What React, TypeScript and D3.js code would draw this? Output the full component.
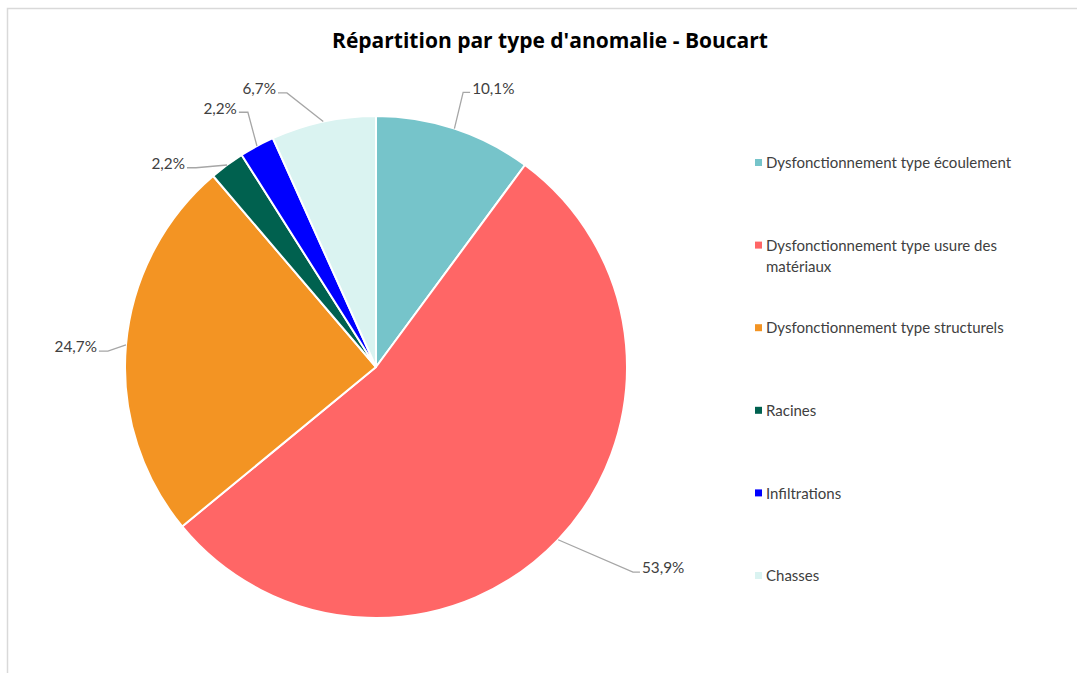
import React, { useEffect } from "react";
import * as d3 from "d3";

const categories = [
  "Dysfonctionnement type écoulement",
  "Dysfonctionnement type usure des matériaux",
  "Dysfonctionnement type structurels",
  "Racines",
  "Infiltrations",
  "Chasses",
];
const counts = [9, 48, 22, 2, 2, 6];
const colors = ["#76C4CA", "#FF6666", "#F39423", "#00614F", "#0000FF", "#DAF3F1"];
const legendLines = [
  ["Dysfonctionnement type écoulement"],
  ["Dysfonctionnement type usure des", "matériaux"],
  ["Dysfonctionnement type structurels"],
  ["Racines"],
  ["Infiltrations"],
  ["Chasses"],
];
// leader elbow placement: [angle in degrees (clockwise from top), radius factor]
const labelElbows: [number, number][] = [
  [17.6, 1.148],
  [128.6, 1.31],
  [273.4, 1.07],
  [317.9, 1.07],
  [333.3, 1.136],
  [342, 1.148],
];

const W = 1077;
const H = 673;
const FONT = "Lato, 'Open Sans', sans-serif";

export default function App() {
  useEffect(() => {
    document.body.style.margin = "0";
  }, []);

  const cx = 376;
  const cy = 367;
  const r = 251;
  const total = d3.sum(counts);
  const pie = d3.pie<number>().sort(null).value((d) => d);
  const arcs = pie(counts);
  const arc = d3.arc<d3.PieArcDatum<number>>().innerRadius(0).outerRadius(r);
  const fmt = (v: number) => d3.format(".1f")((v / total) * 100).replace(".", ",") + "%";

  const legendY = d3.scalePoint<number>().domain(d3.range(categories.length)).range([163, 576]);

  return (
    <svg width={W} height={H} style={{ display: "block", fontFamily: FONT }}>
      <rect x={0} y={0} width={W} height={H} fill="#fff" />
      <path d={`M7.5,${H} L7.5,8.5 L${W},8.5`} fill="none" stroke="#D9D9D9" strokeWidth={1.5} />
      <text x={550} y={48} textAnchor="middle" fontSize={21} fontWeight="bold" fill="#000"
        style={{ fontFamily: "'Open Sans', sans-serif" }}>
        Répartition par type d'anomalie - Boucart
      </text>
      <g transform={`translate(${cx},${cy})`}>
        {arcs.map((a, i) => (
          <path key={i} d={arc(a) || ""} fill={colors[i]} stroke="#fff" strokeWidth={2} strokeLinejoin="round" />
        ))}
        {arcs.map((a, i) => {
          const mid = (a.startAngle + a.endAngle) / 2;
          const x0 = r * Math.sin(mid);
          const y0 = -r * Math.cos(mid);
          const [angDeg, rf] = labelElbows[i];
          const ang = (angDeg * Math.PI) / 180;
          const x1 = r * rf * Math.sin(ang);
          const y1 = -r * rf * Math.cos(ang);
          const right = x1 > 0;
          const x2 = x1 + (right ? 7 : -9);
          return (
            <g key={"l" + i}>
              <polyline
                points={`${x0},${y0} ${x1},${y1} ${x2},${y1}`}
                fill="none"
                stroke="#A6A6A6"
                strokeWidth={1.3}
              />
              <text
                x={x2 + (right ? 2 : -2)}
                y={y1 - 4}
                dy="0.35em"
                textAnchor={right ? "start" : "end"}
                fontSize={15.3}
                fill="#404040"
              >
                {fmt(a.data)}
              </text>
            </g>
          );
        })}
      </g>
      <g>
        {categories.map((c, i) => {
          const y = legendY(i) as number;
          return (
            <g key={c}>
              <rect x={755} y={y - 4} width={7} height={7} fill={colors[i]} />
              {legendLines[i].map((ln, j) => (
                <text key={j} x={766} y={y + j * 21} dy="0.35em" fontSize={15} fill="#404040">
                  {ln}
                </text>
              ))}
            </g>
          );
        })}
      </g>
    </svg>
  );
}
